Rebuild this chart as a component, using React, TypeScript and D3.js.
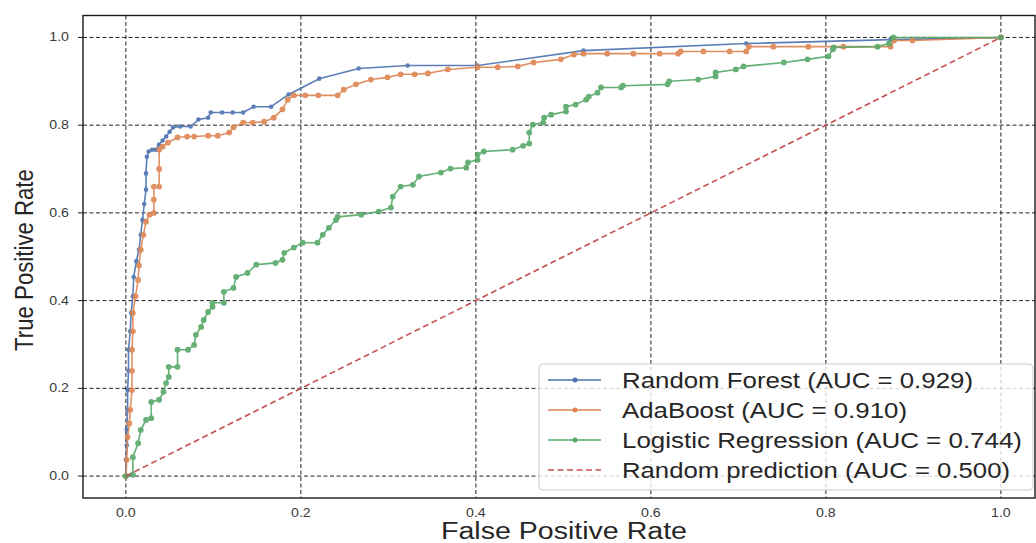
import React from "react";
import * as d3 from "d3";

// ROC points: [false positive rate, true positive rate]
const randomForest: [number, number][] = [
  [0, 0], [0, 0.037], [0.001, 0.07], [0.001, 0.105], [0.002, 0.15], [0.002, 0.196],
  [0.003, 0.24], [0.003, 0.288], [0.005, 0.33], [0.006, 0.372], [0.008, 0.41], [0.009, 0.454],
  [0.012, 0.49], [0.015, 0.516], [0.017, 0.55], [0.019, 0.584], [0.021, 0.62], [0.023, 0.653],
  [0.023, 0.69], [0.024, 0.728], [0.026, 0.74], [0.03, 0.744], [0.034, 0.744], [0.038, 0.756],
  [0.042, 0.765], [0.046, 0.774], [0.05, 0.785], [0.054, 0.795], [0.062, 0.797], [0.074, 0.797],
  [0.083, 0.813], [0.094, 0.817], [0.097, 0.829], [0.11, 0.829], [0.122, 0.829], [0.134, 0.829],
  [0.146, 0.842], [0.166, 0.842], [0.186, 0.87], [0.221, 0.906], [0.266, 0.929], [0.322, 0.936],
  [0.402, 0.936], [0.523, 0.97], [0.709, 0.986], [0.874, 0.995], [1, 1],
];

const adaBoost: [number, number][] = [
  [0, 0], [0.001, 0.037], [0.002, 0.089], [0.004, 0.12], [0.005, 0.151], [0.007, 0.196],
  [0.007, 0.24], [0.007, 0.288], [0.008, 0.33], [0.008, 0.372], [0.011, 0.41], [0.014, 0.447],
  [0.015, 0.48], [0.017, 0.516], [0.02, 0.55], [0.023, 0.58], [0.027, 0.596], [0.032, 0.6],
  [0.032, 0.63], [0.032, 0.66], [0.038, 0.66], [0.038, 0.7], [0.038, 0.744], [0.042, 0.751],
  [0.048, 0.76], [0.059, 0.772], [0.07, 0.774], [0.078, 0.774], [0.094, 0.776], [0.105, 0.776],
  [0.118, 0.783], [0.123, 0.795], [0.134, 0.806], [0.145, 0.806], [0.158, 0.808], [0.169, 0.817],
  [0.179, 0.836], [0.185, 0.858], [0.192, 0.868], [0.205, 0.868], [0.22, 0.868], [0.242, 0.868],
  [0.249, 0.881], [0.263, 0.893], [0.28, 0.904], [0.299, 0.909], [0.314, 0.916], [0.33, 0.916],
  [0.345, 0.918], [0.368, 0.927], [0.402, 0.932], [0.425, 0.932], [0.448, 0.934], [0.466, 0.943],
  [0.497, 0.95], [0.512, 0.961], [0.523, 0.963], [0.55, 0.963], [0.58, 0.963], [0.61, 0.963],
  [0.631, 0.963], [0.634, 0.968], [0.66, 0.968], [0.69, 0.968], [0.709, 0.968], [0.712, 0.979],
  [0.74, 0.979], [0.78, 0.979], [0.82, 0.979], [0.874, 0.979], [0.878, 0.993], [0.899, 0.993],
  [1, 1],
];

const logistic: [number, number][] = [
  [0, 0], [0.008, 0.003], [0.008, 0.043], [0.014, 0.075], [0.017, 0.105], [0.023, 0.128],
  [0.029, 0.132], [0.029, 0.169], [0.038, 0.174], [0.043, 0.192], [0.046, 0.212], [0.049, 0.226],
  [0.049, 0.249], [0.059, 0.249], [0.059, 0.288], [0.071, 0.288], [0.078, 0.299], [0.08, 0.322],
  [0.086, 0.34], [0.089, 0.356], [0.094, 0.374], [0.099, 0.386], [0.099, 0.395], [0.112, 0.395],
  [0.112, 0.42], [0.123, 0.429], [0.126, 0.454], [0.139, 0.463], [0.149, 0.482], [0.171, 0.486],
  [0.179, 0.493], [0.181, 0.509], [0.192, 0.521], [0.202, 0.532], [0.219, 0.532], [0.225, 0.55],
  [0.232, 0.566], [0.24, 0.584], [0.242, 0.591], [0.269, 0.596], [0.289, 0.603], [0.303, 0.612],
  [0.305, 0.637], [0.314, 0.66], [0.328, 0.664], [0.335, 0.683], [0.36, 0.692], [0.371, 0.701],
  [0.389, 0.703], [0.391, 0.715], [0.402, 0.721], [0.402, 0.733], [0.409, 0.74], [0.442, 0.744],
  [0.454, 0.753], [0.461, 0.758], [0.461, 0.783], [0.465, 0.801], [0.477, 0.806], [0.478, 0.817],
  [0.486, 0.824], [0.503, 0.831], [0.503, 0.842], [0.514, 0.847], [0.526, 0.858], [0.529, 0.865],
  [0.539, 0.874], [0.543, 0.886], [0.566, 0.886], [0.568, 0.89], [0.619, 0.893], [0.621, 0.9],
  [0.654, 0.904], [0.674, 0.911], [0.674, 0.92], [0.697, 0.927], [0.706, 0.934], [0.752, 0.943],
  [0.779, 0.95], [0.803, 0.957], [0.808, 0.973], [0.809, 0.977], [0.859, 0.979], [0.872, 0.986],
  [0.877, 1], [1, 1],
];

const randomPrediction: [number, number][] = [[0, 0], [1, 1]];

const ticks = [0, 0.2, 0.4, 0.6, 0.8, 1.0];

const series = [
  { name: "Random Forest (AUC = 0.929)", data: randomForest, color: "#4C72B0", len: 351, r: 2.3 },
  { name: "AdaBoost (AUC = 0.910)", data: adaBoost, color: "#DD8452", len: 285, r: 2.9 },
  { name: "Logistic Regression (AUC = 0.744)", data: logistic, color: "#55A868", len: 400, r: 2.9 },
];
const diagonal = { name: "Random prediction (AUC = 0.500)", color: "#C44E52", len: 388 };

const FONT = "'Liberation Sans', Arial, sans-serif";
const SX = 1.18; // the picture is a little wider than tall

const App = () => {
  const left = 83, right = 1035, top = 15.5, bottom = 498;
  const x = d3.scaleLinear().domain([-0.049, 1.039]).range([left, right]);
  const y = d3.scaleLinear().domain([-0.05, 1.05]).range([bottom, top]);
  const line = d3.line<[number, number]>().x((d) => x(d[0])).y((d) => y(d[1]));

  const legendX = 539, legendY = 364;
  const rows = [380, 410, 440, 470];

  return (
    <svg width={1036} height={543} style={{ position: "absolute", left: 0, top: 0, background: "#fff" }}>
      <defs>
        <clipPath id="plot">
          <rect x={left} y={top} width={right - left} height={bottom - top} />
        </clipPath>
      </defs>

      {/* grid */}
      {ticks.map((t) => (
        <g key={"g" + t}>
          <line x1={x(t)} x2={x(t)} y1={top} y2={bottom} stroke="#222" strokeWidth={1} strokeDasharray="4,2.5" />
          <line x1={left} x2={right} y1={y(t)} y2={y(t)} stroke="#222" strokeWidth={1} strokeDasharray="4,2.5" />
        </g>
      ))}

      <g clipPath="url(#plot)">
        {series.map((s) => (
          <g key={s.name} opacity={0.9}>
            <path d={line(s.data) ?? ""} fill="none" stroke={s.color} strokeWidth={1.6} />
            {s.data.map((d, i) => (
              <circle key={i} cx={x(d[0])} cy={y(d[1])} r={s.r} fill={s.color} />
            ))}
          </g>
        ))}
        <path d={line(randomPrediction) ?? ""} fill="none" stroke={diagonal.color} strokeWidth={1.6} strokeDasharray="6,3.5" />
      </g>

      {/* frame */}
      <rect x={left} y={top} width={right - left} height={bottom - top} fill="none" stroke="#1a1a1a" strokeWidth={1.4} />

      {/* y ticks */}
      {ticks.map((t) => (
        <g key={"y" + t}>
          <line x1={left - 5} x2={left} y1={y(t)} y2={y(t)} stroke="#1a1a1a" strokeWidth={1} />
          <text transform={`translate(69,${y(t) + 4}) scale(${SX},1)`} textAnchor="end" fontSize={12} fontFamily={FONT} fill="#3a3a3a">
            {t.toFixed(1)}
          </text>
        </g>
      ))}
      {/* x ticks */}
      {ticks.map((t) => (
        <text key={"x" + t} transform={`translate(${x(t)},517) scale(${SX},1)`} textAnchor="middle" fontSize={12} fontFamily={FONT} fill="#3a3a3a">
          {t.toFixed(1)}
        </text>
      ))}

      {/* axis titles */}
      <text x={564} y={539} textAnchor="middle" fontSize={23} fontFamily={FONT} fill="#262626" textLength={246} lengthAdjust="spacingAndGlyphs">
        False Positive Rate
      </text>
      <text transform={`translate(33,260) scale(1.2,1) rotate(-90)`} textAnchor="middle" fontSize={22.2} fontFamily={FONT} fill="#262626">
        True Positive Rate
      </text>

      {/* legend */}
      <rect x={legendX} y={legendY} width={494} height={126} rx={4} fill="#fff" fillOpacity={0.8} stroke="#cccccc" strokeWidth={1} />
      {series.map((s, i) => (
        <g key={"l" + s.name}>
          <line x1={548} x2={601} y1={rows[i]} y2={rows[i]} stroke={s.color} strokeWidth={1.6} />
          <circle cx={575} cy={rows[i]} r={2.5} fill={s.color} />
          <text x={622} y={rows[i] + 8} fontSize={22} fontFamily={FONT} fill="#262626" textLength={s.len} lengthAdjust="spacingAndGlyphs">
            {s.name}
          </text>
        </g>
      ))}
      <line x1={548} x2={601} y1={rows[3]} y2={rows[3]} stroke={diagonal.color} strokeWidth={1.6} strokeDasharray="6,3.5" />
      <text x={622} y={rows[3] + 8} fontSize={22} fontFamily={FONT} fill="#262626" textLength={diagonal.len} lengthAdjust="spacingAndGlyphs">
        {diagonal.name}
      </text>
    </svg>
  );
};

export default App;
